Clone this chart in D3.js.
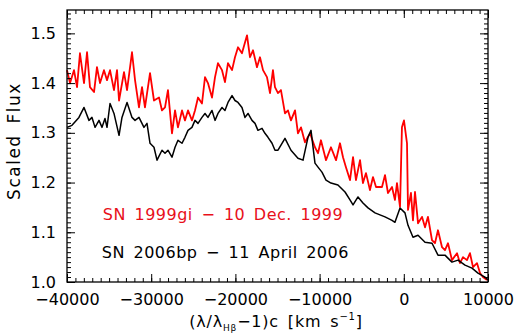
<!DOCTYPE html>
<html>
<head>
<meta charset="utf-8">
<script src="https://cdn.jsdelivr.net/npm/d3@7"></script>
<style>
  body { margin: 0; background: #fff; }
  text { font-family: 'DejaVu Sans', sans-serif; }
</style>
</head>
<body>
<div id="chart"></div>
<script>
// SN 2006bp - 11 April 2006 (black)
var velBlack = [-40000, -39410, -38580, -37980, -37390, -37030, -36670, -36200, -35840, -35490,
  -35250, -34890, -34420, -33820, -33470, -32870, -32280, -31920, -31450, -30860,
  -30500, -30140, -29670, -29310, -28720, -28360, -28010, -27530, -27170, -26820,
  -26340, -25990, -25630, -25160, -24800, -24440, -23970, -23610, -23260, -22780,
  -22420, -22070, -21590, -21240, -20880, -20400, -20050, -19690, -19220, -18860,
  -18500, -18030, -17670, -17320, -16840, -16490, -16130, -15650, -15300, -14940,
  -14110, -13400, -12570, -11970, -11380, -11020, -10550, -10190, -9720, -9240,
  -8650, -7820, -6980, -6390, -6030, -5440, -4850, -4250, -3420, -2830,
  -2230, -1400, -1050, -450, 140, 500, 1090, 1690, 2520, 3350,
  4060, 4890, 5720, 6440, 7270, 8100, 8810, 9640, 10000];
var fluxBlack = [1.311, 1.315, 1.331, 1.351, 1.325, 1.331, 1.311, 1.325, 1.311, 1.329,
  1.311, 1.359, 1.339, 1.295, 1.331, 1.361, 1.331, 1.325, 1.331, 1.311,
  1.319, 1.279, 1.271, 1.245, 1.265, 1.259, 1.265, 1.251, 1.271, 1.285,
  1.279, 1.291, 1.305, 1.311, 1.325, 1.319, 1.331, 1.339, 1.331, 1.345,
  1.325, 1.339, 1.351, 1.345, 1.361, 1.375, 1.365, 1.361, 1.351, 1.331,
  1.339, 1.325, 1.319, 1.305, 1.309, 1.299, 1.291, 1.279, 1.265, 1.265,
  1.289, 1.265, 1.249, 1.245, 1.291, 1.305, 1.239, 1.231, 1.221, 1.205,
  1.199, 1.195, 1.181, 1.165, 1.155, 1.171, 1.159, 1.149, 1.139, 1.135,
  1.131, 1.124, 1.120, 1.149, 1.139, 1.114, 1.090, 1.094, 1.080, 1.078,
  1.054, 1.054, 1.040, 1.044, 1.034, 1.028, 1.018, 1.010, 1.004];

// SN 1999gi - 10 Dec. 1999 (red)
var velRed = [-40000, -39640, -39170, -38810, -38460, -37980, -37620, -37270, -36790, -36440,
  -36080, -35610, -35250, -34890, -34420, -34060, -33820, -33230, -32870, -32280,
  -31920, -31450, -31090, -30740, -30140, -29670, -29070, -28720, -28360, -28010,
  -27530, -27170, -26820, -26340, -25990, -25630, -25160, -24800, -24440, -23970,
  -23610, -23260, -22780, -22420, -22070, -21590, -21240, -20880, -20400, -20050,
  -19690, -19220, -18620, -18270, -17910, -17440, -17080, -16720, -16250, -15890,
  -15540, -15300, -14940, -14590, -14110, -13750, -13400, -12920, -12570, -12210,
  -11740, -11140, -10550, -10190, -9840, -9240, -8650, -8050, -7580, -7220,
  -6870, -6390, -6030, -5680, -5200, -4850, -4490, -4020, -3660, -3300,
  -3070, -2590, -2230, -1880, -1400, -1050, -810, -450, -220, 20,
  380, 500, 850, 1090, 1330, 1690, 2160, 2520, 2870, 3350,
  3700, 4060, 4540, 4890, 5250, 5720, 6320, 6670, 7030, 7500,
  7860, 8220, 8690, 9050, 9400, 9880];
var fluxRed = [1.426, 1.400, 1.426, 1.392, 1.460, 1.400, 1.462, 1.392, 1.382, 1.432,
  1.400, 1.426, 1.406, 1.426, 1.386, 1.426, 1.365, 1.422, 1.386, 1.462,
  1.406, 1.351, 1.392, 1.351, 1.420, 1.365, 1.371, 1.345, 1.351, 1.386,
  1.299, 1.345, 1.311, 1.345, 1.325, 1.345, 1.325, 1.345, 1.371, 1.359,
  1.412, 1.400, 1.371, 1.412, 1.440, 1.426, 1.402, 1.440, 1.426, 1.452,
  1.472, 1.460, 1.496, 1.452, 1.466, 1.432, 1.452, 1.426, 1.412, 1.380,
  1.426, 1.392, 1.380, 1.386, 1.339, 1.345, 1.325, 1.345, 1.299, 1.311,
  1.281, 1.299, 1.271, 1.259, 1.285, 1.245, 1.271, 1.245, 1.279, 1.251,
  1.231, 1.205, 1.251, 1.205, 1.245, 1.199, 1.219, 1.185, 1.211, 1.191,
  1.191, 1.191, 1.215, 1.179, 1.191, 1.165, 1.199, 1.151, 1.311, 1.325,
  1.279, 1.145, 1.179, 1.124, 1.181, 1.118, 1.131, 1.110, 1.131, 1.084,
  1.078, 1.104, 1.070, 1.064, 1.078, 1.044, 1.058, 1.038, 1.050, 1.044,
  1.058, 1.030, 1.038, 1.018, 1.010, 1.004];

var xTicks = [-40000, -30000, -20000, -10000, 0, 10000];
var yTicks = [1.0, 1.1, 1.2, 1.3, 1.4, 1.5];
var xDomain = [-40000, 10000];
var yDomain = [1.0, 1.547];

var width = 518, height = 335;
var margin = { top: 10, right: 30, bottom: 53, left: 67 };
var plotW = width - margin.left - margin.right;
var plotH = height - margin.top - margin.bottom;

var svg = d3.select('#chart').append('svg')
  .attr('width', width)
  .attr('height', height);

var g = svg.append('g')
  .attr('transform', 'translate(' + margin.left + ',' + margin.top + ')');

var x = d3.scaleLinear().domain(xDomain).range([0, plotW]);
var y = d3.scaleLinear().domain(yDomain).range([plotH, 0]);

function fmtMinus(d) {
  return d3.format('d')(d).replace('-', '\u2212');
}

// spectra
var line = d3.line()
  .x(function(d) { return x(d[0]); })
  .y(function(d) { return y(d[1]); });

g.append('path')
  .datum(d3.zip(velRed, fluxRed))
  .attr('fill', 'none')
  .attr('stroke', '#ff0000')
  .attr('stroke-width', 1.8)
  .attr('stroke-linejoin', 'round')
  .attr('d', line);

g.append('path')
  .datum(d3.zip(velBlack, fluxBlack))
  .attr('fill', 'none')
  .attr('stroke', '#000')
  .attr('stroke-width', 1.5)
  .attr('stroke-linejoin', 'round')
  .attr('d', line);

// axes, ticks pointing inward on all four sides
var xMinor = x.ticks(50);
var yMinor = y.ticks(50);

function styleAxis(sel) {
  sel.select('.domain').remove();
  sel.selectAll('line').attr('stroke', '#000').attr('stroke-width', 1);
  sel.selectAll('text')
    .attr('fill', '#000')
    .style('font-size', '16px')
    .style('font-family', "'DejaVu Sans', sans-serif");
}

g.append('g')
  .attr('transform', 'translate(0,' + plotH + ')')
  .call(d3.axisBottom(x).tickValues(xMinor).tickSize(-4).tickFormat(''))
  .call(styleAxis);
g.append('g')
  .attr('transform', 'translate(0,' + plotH + ')')
  .call(d3.axisBottom(x).tickValues(xTicks).tickSize(-8).tickPadding(12).tickFormat(fmtMinus))
  .call(styleAxis);
g.append('g')
  .call(d3.axisTop(x).tickValues(xMinor).tickSize(-4).tickFormat(''))
  .call(styleAxis);
g.append('g')
  .call(d3.axisTop(x).tickValues(xTicks).tickSize(-8).tickFormat(''))
  .call(styleAxis);

g.append('g')
  .call(d3.axisLeft(y).tickValues(yMinor).tickSize(-4).tickFormat(''))
  .call(styleAxis);
g.append('g')
  .call(d3.axisLeft(y).tickValues(yTicks).tickSize(-8).tickPadding(11).tickFormat(d3.format('.1f')))
  .call(styleAxis);
g.append('g')
  .attr('transform', 'translate(' + plotW + ',0)')
  .call(d3.axisRight(y).tickValues(yMinor).tickSize(-4).tickFormat(''))
  .call(styleAxis);
g.append('g')
  .attr('transform', 'translate(' + plotW + ',0)')
  .call(d3.axisRight(y).tickValues(yTicks).tickSize(-8).tickFormat(''))
  .call(styleAxis);

// frame
g.append('rect')
  .attr('x', 0).attr('y', 0)
  .attr('width', plotW).attr('height', plotH)
  .attr('fill', 'none')
  .attr('stroke', '#000')
  .attr('stroke-width', 1.3);

// legend labels
g.append('text')
  .attr('x', x(-35750))
  .attr('y', y(1.1245))
  .attr('fill', '#e8101a')
  .style('font-size', '16px')
  .style('letter-spacing', '0.5px')
  .style('word-spacing', '3px')
  .text('SN 1999gi \u2212 10 Dec. 1999');

g.append('text')
  .attr('x', x(-35870))
  .attr('y', y(1.0482))
  .attr('fill', '#000')
  .style('font-size', '16px')
  .style('letter-spacing', '0.5px')
  .style('word-spacing', '3px')
  .text('SN 2006bp \u2212 11 April 2006');

// axis titles
svg.append('text')
  .attr('transform', 'translate(20,141) rotate(-90)')
  .attr('text-anchor', 'middle')
  .attr('fill', '#000')
  .style('font-size', '17px')
  .style('letter-spacing', '1.5px')
  .style('word-spacing', '4px')
  .text('Scaled Flux');

var xt = svg.append('text')
  .attr('x', 276)
  .attr('y', 327)
  .attr('text-anchor', 'middle')
  .attr('fill', '#000')
  .style('font-size', '16px')
  .style('letter-spacing', '0.8px')
  .style('word-spacing', '3px');
xt.append('tspan').text('(\u03bb/\u03bb');
xt.append('tspan').attr('dy', 4).style('font-size', '9px').text('H\u03b2');
xt.append('tspan').attr('dy', -4).text('\u22121)c [km s');
xt.append('tspan').attr('dy', -7).style('font-size', '10px').text('\u22121');
xt.append('tspan').attr('dy', 7).text(']');
</script>
</body>
</html>
